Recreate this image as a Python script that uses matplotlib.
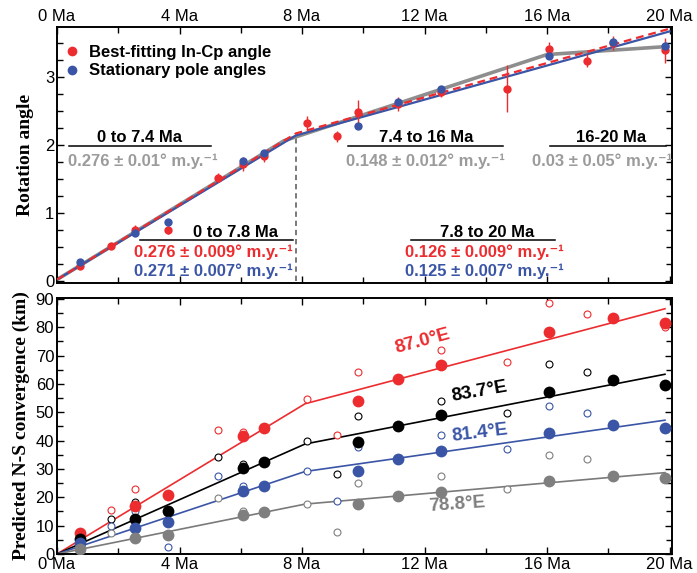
import matplotlib
matplotlib.use("Agg")
import matplotlib.pyplot as plt
import numpy as np
from matplotlib.ticker import MultipleLocator, FuncFormatter
from matplotlib.lines import Line2D

plt.rcParams['font.family'] = ['Liberation Sans', 'DejaVu Sans']

RED = '#ec2c2f'
BLUE = '#3a55a6'
GRAY = '#8e8e8e'
TGRAY = '#9b9b9b'
DGRAY = '#7f7f7f'

# ---------------- data ----------------
# ages of best-fitting (In-Cp) reconstructions
age_best = [0.76, 1.77, 2.56, 3.62, 5.26, 6.07, 6.77, 8.16, 9.14, 9.84, 11.13, 12.55, 14.70, 16.07, 17.32, 18.16, 19.85]
angle_best = [0.22, 0.51, 0.75, 0.75, 1.52, 1.72, 1.84, 2.33, 2.13, 2.48, 2.60, 2.78, 2.83, 3.41, 3.24, 3.50, 3.39]
angle_best_err = [0.05, 0.03, 0.07, 0.06, 0.07, 0.10, 0.09, 0.09, 0.08, 0.18, 0.10, 0.08, 0.35, 0.10, 0.10, 0.10, 0.18]

# ages of stationary-pole reconstructions
age_stat = [0.76, 2.56, 3.62, 6.07, 6.77, 9.84, 11.13, 12.55, 16.07, 18.16, 19.85]
angle_stat = [0.28, 0.70, 0.86, 1.76, 1.88, 2.28, 2.63, 2.82, 3.31, 3.52, 3.46]
angle_stat_err = [0.03, 0.03, 0.03, 0.04, 0.04, 0.05, 0.04, 0.04, 0.04, 0.05, 0.05]

# piecewise rate fits (top panel)
fit3_age = [0, 7.4, 16, 20]
fit3_angle = [0.02, 2.06, 3.33, 3.45]
fit2_age = [0, 7.8, 20]
fit2_red = [0.02, 2.17, 3.71]
fit2_blue = [0.02, 2.14, 3.67]
break_age = 7.8
break_angle = 2.15

# predicted N-S convergence (bottom panel), filled = stationary pole, open = best-fitting
longitudes = ['87.0°E', '83.7°E', '81.4°E', '78.8°E']
conv_stat = {
    '87.0°E': [7.4, 16.8, 20.7, 41.5, 44.4, 54.0, 61.9, 66.7, 78.4, 83.3, 81.6],
    '83.7°E': [5.4, 12.3, 15.2, 30.3, 32.3, 39.4, 45.3, 49.0, 57.3, 61.2, 59.6],
    '81.4°E': [3.9, 9.2, 11.2, 22.1, 24.1, 29.3, 33.6, 36.4, 42.6, 45.4, 44.4],
    '78.8°E': [1.9, 5.5, 6.8, 13.6, 14.7, 17.6, 20.4, 22.0, 25.8, 27.6, 26.9],
}
conv_stat_err = {
    '87.0°E': [0.8, 0.8, 0.8, 1.2, 1.0, 1.8, 1.5, 1.5, 1.8, 1.8, 1.8],
    '83.7°E': [0.5, 0.5, 0.5, 0.8, 0.6, 1.0, 0.8, 0.8, 1.0, 1.0, 1.2],
    '81.4°E': [0.4, 0.4, 0.4, 0.5, 0.5, 0.6, 0.5, 0.5, 0.6, 0.6, 0.6],
    '78.8°E': [0.3, 0.3, 0.3, 0.4, 0.4, 0.4, 0.4, 0.4, 0.4, 0.4, 0.4],
}
conv_best = {
    '87.0°E': [7.4, 15.5, 23.0, 20.7, 43.6, 42.9, 44.4, 54.7, 41.8, 64.1, 61.9, 71.8, 67.7, 88.7, 84.5, 83.3, 80.0],
    '83.7°E': [5.4, 12.3, 18.4, 15.2, 34.2, 31.8, 32.3, 39.9, 28.1, 48.6, 45.3, 54.1, 49.9, 67.1, 64.1, 61.2, 59.6],
    '81.4°E': [3.9, 9.8, 15.2, 2.5, 27.4, 23.9, 24.1, 29.4, 18.6, 37.7, 33.6, 41.9, 37.2, 52.1, 49.7, 45.4, 44.4],
    '78.8°E': [1.9, 7.4, 5.5, 6.8, 19.7, 15.3, 14.7, 17.6, 7.9, 25.2, 20.4, 27.6, 22.8, 34.9, 33.4, 27.6, 26.9],
}
model_age = [0, 8.1, 19.85]
conv_model = {
    '87.0°E': [0, 53.0, 86.5],
    '83.7°E': [0, 38.8, 63.4],
    '81.4°E': [0, 29.1, 47.2],
    '78.8°E': [0, 17.6, 28.7],
}
series_color = {'87.0°E': RED, '83.7°E': 'black', '81.4°E': BLUE, '78.8°E': DGRAY}
line_color = {'87.0°E': RED, '83.7°E': 'black', '81.4°E': BLUE, '78.8°E': '#7a7a7a'}

# ---------------- figure ----------------
fig = plt.figure(figsize=(6.97, 5.73), dpi=100)
ax1 = fig.add_axes([57/697, 1-283/573, 615/697, 256/573])
ax2 = fig.add_axes([57/697, 1-554/573, 615/697, 256/573])

mafmt = FuncFormatter(lambda v, p: f"{int(round(v))} Ma")

for ax in (ax1, ax2):
    ax.set_xlim(0, 20.08)
    ax.xaxis.set_major_locator(MultipleLocator(4))
    ax.xaxis.set_minor_locator(MultipleLocator(2))
    ax.xaxis.set_major_formatter(mafmt)
    ax.tick_params(which='both', direction='in', top=True, right=True, labelsize=12, width=1, pad=2)
    ax.tick_params(which='major', length=5)
    ax.tick_params(which='minor', length=4)
    for s in ax.spines.values():
        s.set_linewidth(1.4)

# ---- top panel ----
ax1.set_ylim(-0.03, 3.735)
ax1.yaxis.set_major_locator(MultipleLocator(1))
ax1.yaxis.set_minor_locator(MultipleLocator(0.25))
ax1.tick_params(axis='x', labeltop=True, labelbottom=False)
ax1.set_ylabel('Rotation angle', family='Liberation Serif', fontweight='bold', fontsize=14, labelpad=8)

ax1.plot(fit3_age, fit3_angle, color=GRAY, lw=2.6, zorder=2, solid_capstyle='butt')
ax1.plot(fit2_age, fit2_blue, color=BLUE, lw=1.6, zorder=3)
ax1.plot(fit2_age, fit2_red, color=RED, lw=1.6, ls=(0, (3.5, 2.2)), zorder=4)
ax1.plot([break_age, break_age], [0, break_angle], color='#555555', lw=1.1, ls=(0, (3.5, 2.5)), zorder=1)

ax1.errorbar(age_best, angle_best, yerr=angle_best_err, fmt='o', color=RED, ms=6, mew=0,
             elinewidth=1, capsize=1.8, capthick=1, zorder=5)
ax1.errorbar(age_stat, angle_stat, yerr=angle_stat_err, fmt='o', color=BLUE, ms=6, mew=0,
             elinewidth=1, capsize=1.5, capthick=1, zorder=6)

handles = [Line2D([], [], ls='none', marker='o', color=RED, ms=7, mew=0),
           Line2D([], [], ls='none', marker='o', color=BLUE, ms=7, mew=0)]
ax1.legend(handles, ['Best-fitting In-Cp angle', 'Stationary pole angles'], loc='upper left',
           bbox_to_anchor=(-0.008, 0.975), frameon=False, handlelength=1.0, handletextpad=0.5,
           labelspacing=0.2, borderaxespad=0.3, prop={'weight': 'bold', 'size': 12})

tkw = dict(fontsize=12, fontweight='bold', ha='center', va='center')
ul = dict(color='black', lw=1.1)
# three-segment fit annotations
ax1.text(2.7, 2.11, '0 to 7.4 Ma', color='black', **tkw)
ax1.plot([0.39, 5.02], [1.99, 1.99], **ul)
ax1.text(2.8, 1.765, '0.276 ± 0.01° m.y.⁻¹', color=TGRAY, **tkw)
ax1.text(12.06, 2.11, '7.4 to 16 Ma', color='black', **tkw)
ax1.plot([9.5, 14.57], [1.99, 1.99], **ul)
ax1.text(12.03, 1.765, '0.148 ± 0.012° m.y.⁻¹', color=TGRAY, **tkw)
ax1.text(18.1, 2.11, '16-20 Ma', color='black', **tkw)
ax1.plot([16.1, 19.9], [1.99, 1.99], **ul)
ax1.text(17.8, 1.765, '0.03 ± 0.05° m.y.⁻¹', color=TGRAY, **tkw)
# two-segment fit annotations
ax1.text(5.83, 0.72, '0 to 7.8 Ma', color='black', **tkw)
ax1.plot([2.7, 7.7], [0.60, 0.60], **ul)
ax1.text(5.11, 0.43, '0.276 ± 0.009° m.y.⁻¹', color=RED, **tkw)
ax1.text(5.11, 0.14, '0.271 ± 0.007° m.y.⁻¹', color=BLUE, **tkw)
ax1.text(14.05, 0.72, '7.8 to 20 Ma', color='black', **tkw)
ax1.plot([11.57, 16.27], [0.60, 0.60], **ul)
ax1.text(13.96, 0.43, '0.126 ± 0.009° m.y.⁻¹', color=RED, **tkw)
ax1.text(13.96, 0.14, '0.125 ± 0.007° m.y.⁻¹', color=BLUE, **tkw)

# ---- bottom panel ----
ax2.set_ylim(0, 90.3)
ax2.yaxis.set_major_locator(MultipleLocator(10))
ax2.yaxis.set_minor_locator(MultipleLocator(5))
ax2.set_ylabel('Predicted N-S convergence (km)', family='Liberation Serif', fontweight='bold', fontsize=14, labelpad=4)

for lon in longitudes:
    c = series_color[lon]
    ax2.plot(model_age, conv_model[lon], color=line_color[lon], lw=1.2, zorder=2)
    ax2.plot(age_best, conv_best[lon], ls='none', marker='o', ms=5, mfc='white', mec=c, mew=0.8, zorder=3)
    ax2.errorbar(age_stat, conv_stat[lon], yerr=conv_stat_err[lon], fmt='o', color=c, ms=8.5, mew=0,
                 elinewidth=1, capsize=1.5, capthick=1, zorder=4)

lab_pos = {'87.0°E': (11.92, 75.0, 15), '83.7°E': (13.8, 57.3, 10),
           '81.4°E': (13.8, 42.7, 7), '78.8°E': (13.07, 17.3, 4)}
for lon in longitudes:
    x, y, r = lab_pos[lon]
    ax2.text(x, y, lon, color=series_color[lon], fontsize=13.5, fontweight='bold',
             ha='center', va='center', rotation=r, rotation_mode='anchor')

fig.savefig('out.png', dpi=100)
